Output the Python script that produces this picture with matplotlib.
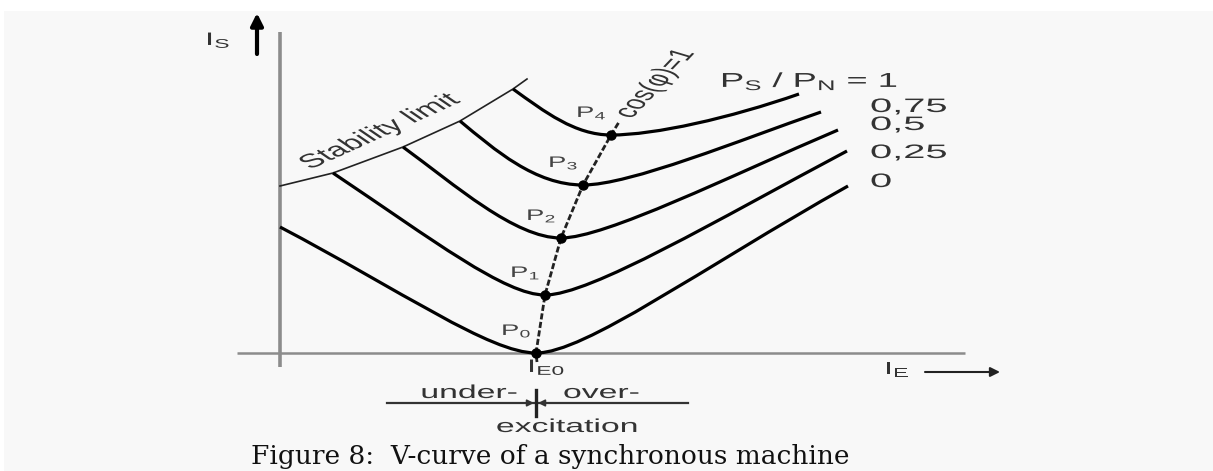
import matplotlib
matplotlib.use("Agg")
import matplotlib.pyplot as plt
from matplotlib.path import Path
from matplotlib.patches import PathPatch, Rectangle
from matplotlib.patheffects import AbstractPathEffect
from matplotlib.transforms import Affine2D

# ---- V-curve data (excitation current I_E vs. stator current I_S, arbitrary units)
levels = ["0", "0,25", "0,5", "0,75", "1"]          # P_S / P_N
left_ie = [0.0, 5.3, 12.3, 18.0, 23.3]               # under-excited end (stability limit)
left_is = [12.6, 18.0, 20.6, 23.2, 26.4]
min_ie = [25.6, 26.5, 28.1, 30.3, 33.1]              # cos(phi)=1 operating points P0..P4
min_is = [0.0, 5.8, 11.5, 16.8, 21.8]
right_ie = [56.8, 56.7, 55.8, 54.1, 51.9]            # over-excited end
right_is = [16.7, 20.2, 22.3, 24.1, 25.9]

# Bezier handles of each branch
la_ie = [12.0, 15.3, 17.5, 21.5, 26.5]
la_is = [6.3, 11.3, 16.8, 20.3, 24.1]
lb_ie = [21.0, 22.5, 23.5, 25.5, 29.5]
ra_ie = [30.5, 31.0, 32.5, 35.0, 37.5]
rb_ie = [42.0, 43.7, 45.0, 46.0, 45.0]
rb_is = [8.4, 13.3, 17.7, 21.3, 23.5]

# stability limit and unity power factor locus
stab_ie = [0.0] + left_ie[1:] + [24.7]
stab_is = [16.7] + left_is[1:] + [27.4]
cos_ie = [25.7] + min_ie + [33.9]
cos_is = [-0.9] + min_is + [23.1]

point_names = ["$\\mathregular{P_0}$", "$\\mathregular{P_1}$", "$\\mathregular{P_2}$",
               "$\\mathregular{P_3}$", "$\\mathregular{P_4}$"]


class HStretch(AbstractPathEffect):
    """Widen glyphs horizontally around the text anchor."""

    def __init__(self, sx):
        super().__init__()
        self.sx = sx
        self.text = None

    def draw_path(self, renderer, gc, tpath, affine, rgbFace=None):
        x0, y0 = self.text.get_transform().transform(self.text.get_unitless_position())
        extra = Affine2D().translate(-x0, -y0).scale(self.sx, 1.0).translate(x0, y0)
        renderer.draw_path(gc, tpath, affine + extra, rgbFace)


TXT = "#333333"
SANS = "Liberation Sans"


def label(ax, x, y, s, size, sx=1.8, **kw):
    kw.setdefault("color", TXT)
    kw.setdefault("family", SANS)
    t = ax.text(x, y, s, fontsize=size, **kw)
    eff = HStretch(sx)
    eff.text = t
    t.set_path_effects([eff])
    return t


plt.rcParams["mathtext.default"] = "regular"
fig = plt.figure(figsize=(12.13, 4.71), dpi=100, facecolor="white")
fig.patches.append(Rectangle((4 / 1213, 0), 1, (471 - 11) / 471, transform=fig.transFigure,
                             facecolor="#f8f8f8", edgecolor="none", zorder=-10))
ax = fig.add_axes([0, 0, 1, 1])
ax.set_xlim(-28.0, 93.3)
ax.set_ylim(-11.8, 35.3)
ax.axis("off")

# axes of the diagram
ax.plot([0, 0], [-1.4, 32.1], color="#8c8c8c", lw=2.6, solid_capstyle="butt")
ax.plot([-4.3, 68.5], [0, 0], color="#8c8c8c", lw=1.8, solid_capstyle="butt")

# V-curves
for i in range(len(levels)):
    verts = [(left_ie[i], left_is[i]), (la_ie[i], la_is[i]), (lb_ie[i], min_is[i]),
             (min_ie[i], min_is[i]), (ra_ie[i], min_is[i]), (rb_ie[i], rb_is[i]),
             (right_ie[i], right_is[i])]
    codes = [Path.MOVETO] + [Path.CURVE4] * 6
    ax.add_patch(PathPatch(Path(verts, codes), facecolor="none", edgecolor="black",
                           lw=2.3, capstyle="butt", zorder=3))

# stability limit
ax.plot(stab_ie, stab_is, color="#222222", lw=1.2, zorder=2)
# cos(phi)=1 locus
ax.plot(cos_ie, cos_is, color="#222222", lw=2.0, linestyle=(0, (2.2, 0.9)), zorder=4)
ax.plot(min_ie, min_is, "o", color="black", ms=6.5, zorder=5)

for i, name in enumerate(point_names):
    label(ax, min_ie[i] - 3.5, min_is[i] + 1.8, name, 11, color="#444444",
          ha="left", va="baseline")

# curve labels
label(ax, 44.0, 26.6, "$\\mathregular{P_S}$ / $\\mathregular{P_N}$ = 1", 14.5,
      ha="left", va="baseline", sx=1.8)
level_y = [16.6, 19.5, 22.3, 24.1]
for name, yy in zip(levels[:4], level_y):
    label(ax, 59.0, yy, name, 14, ha="left", va="baseline", sx=2.05)

label(ax, 10.1, 22.1, "Stability limit", 14, ha="center", va="center", rotation=39)
label(ax, 37.6, 26.9, "cos(φ)=1", 13.5, ha="center", va="center", rotation=62)

# axis names and arrows
label(ax, -7.5, 30.8, "$\\mathregular{I_S}$", 13, ha="left", va="baseline")
ax.annotate("", xy=(-2.3, 34.0), xytext=(-2.3, 29.9),
            arrowprops=dict(arrowstyle="-|>", lw=3.0, color="black",
                            mutation_scale=18, shrinkA=0, shrinkB=0))
label(ax, 60.4, -2.1, "$\\mathregular{I_E}$", 13, ha="left", va="baseline")
ax.annotate("", xy=(72.0, -1.9), xytext=(64.5, -1.9),
            arrowprops=dict(arrowstyle="-|>", lw=1.5, color="#222222",
                            mutation_scale=14, shrinkA=0, shrinkB=0))
label(ax, 24.7, -1.9, "$\\mathregular{I_{E0}}$", 13, ha="left", va="baseline")

# under- / over-excitation marker
ax.plot([10.7, 40.8], [-5.0, -5.0], color="#333333", lw=1.6)
ax.plot([25.6, 25.6], [-3.7, -6.3], color="#222222", lw=2.4)
for x0, x1 in ((22.3, 25.4), (28.9, 25.8)):
    ax.annotate("", xy=(x1, -5.0), xytext=(x0, -5.0),
                arrowprops=dict(arrowstyle="-|>", lw=1.2, color="#333333",
                                mutation_scale=10, shrinkA=0, shrinkB=0))
label(ax, 23.8, -4.5, "under-", 13.5, ha="right", va="baseline")
label(ax, 28.3, -4.5, "over-", 13.5, ha="left", va="baseline")
label(ax, 28.7, -7.9, "excitation", 13.5, ha="center", va="baseline")

fig.text(550 / 1213, (471 - 464) / 471, "Figure 8:  V-curve of a synchronous machine",
         family="DejaVu Serif", fontsize=19, color="#111111", ha="center", va="baseline")

fig.savefig("out.png", dpi=100, facecolor=fig.get_facecolor())
